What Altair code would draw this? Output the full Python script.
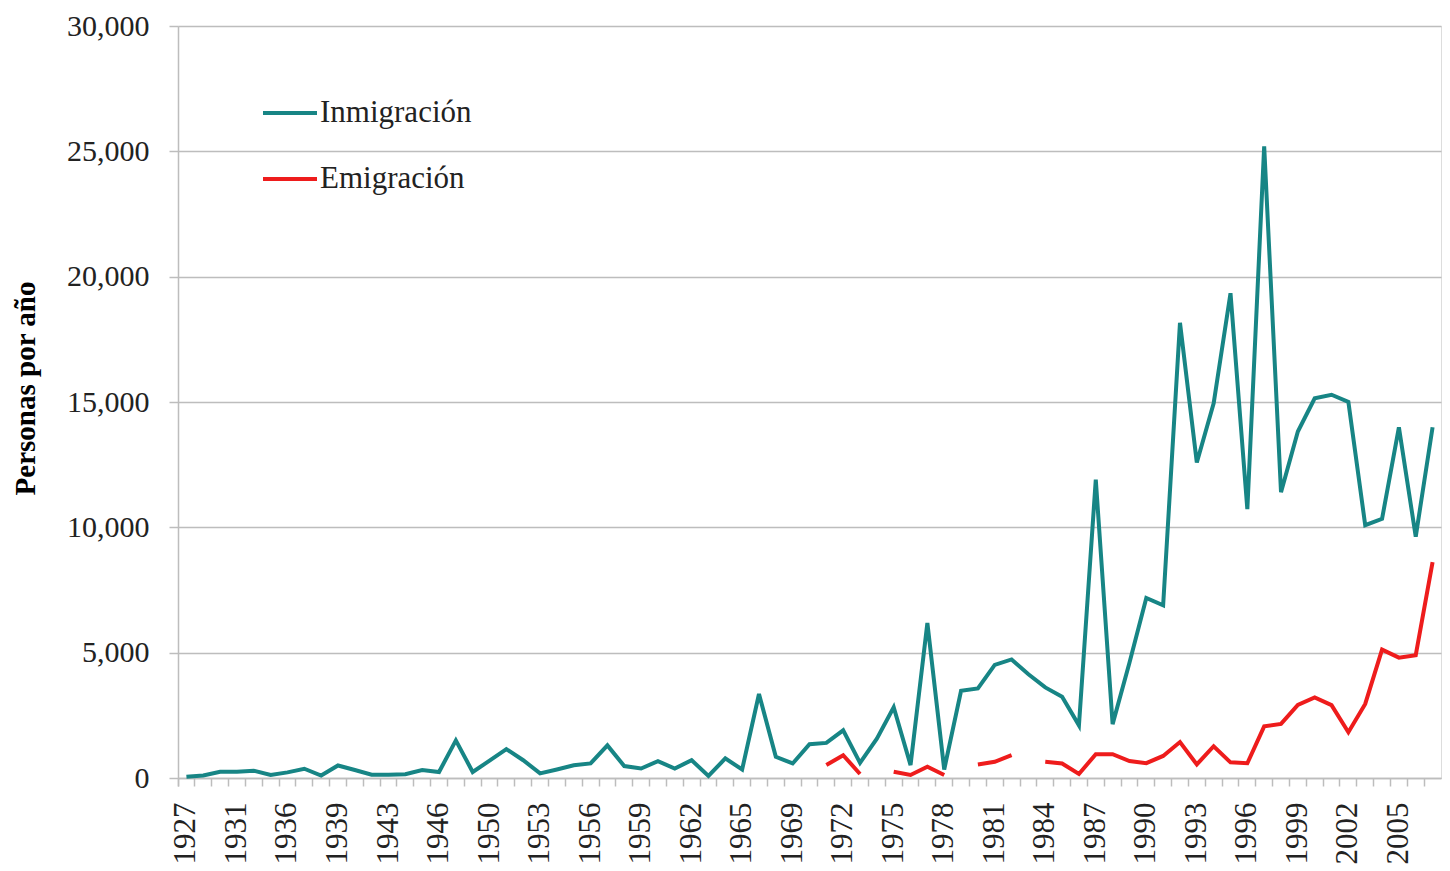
import altair as alt
import pandas as pd

years = ["1927", "1928", "1929", "1931", "1932", "1934", "1936", "1937", "1938",
         "1939", "1940", "1941", "1943", "1944", "1945", "1946", "1947", "1948",
         "1950", "1951", "1952", "1953", "1954", "1955", "1956", "1957", "1958",
         "1959", "1960", "1961", "1962", "1963", "1964", "1965", "1966", "1967",
         "1969", "1970", "1971", "1972", "1973", "1974", "1975", "1976", "1977",
         "1978", "1979", "1980", "1981", "1982", "1983", "1984", "1985", "1986",
         "1987", "1988", "1989", "1990", "1991", "1992", "1993", "1994", "1995",
         "1996", "1997", "1998", "1999", "2000", "2001", "2002", "2003", "2004",
         "2005", "2006", "2007"]

inmigracion = [50, 100, 250, 250, 290, 120, 225, 370, 100,
               500, 320, 130, 130, 150, 320, 240, 1500, 240,
               690, 1150, 710, 185, 340, 510, 580, 1300, 475,
               380, 670, 380, 710, 80, 780, 340, 3350, 845,
               580, 1345, 1400, 1900, 605, 1570, 2820, 515, 6185,
               340, 3480, 3575, 4510, 4730, 4140, 3615, 3245, 2100,
               11900, 2150, 4600, 7180, 6890, 18160, 12585, 14950, 19340,
               10730, 25200, 11400, 13820, 15150, 15290, 15000, 10085, 10340,
               13990, 9630, 13990]

emigracion = [None] * 38 + [
    515, 910, 160, None, 250, 120, 450, 120, None, 540, 645, 910, None,
    645, 580, 160, 950, 950, 675, 590, 880, 1435, 540, 1267, 625, 590,
    2060, 2160, 2920, 3210, 2905, 1825, 2955, 5120, 4800, 4900, 8615]

series_names = ["Inmigración", "Emigración"]
series_colors = ["#178585", "#EE1C1C"]

labeled_years = years[::3]

df = pd.concat([
    pd.DataFrame({"Año": years, "Personas": inmigracion, "Serie": series_names[0]}),
    pd.DataFrame({"Año": years, "Personas": emigracion, "Serie": series_names[1]}),
], ignore_index=True)

label_list = ",".join("'" + y + "'" for y in labeled_years)
label_expr = f"indexof([{label_list}], datum.value) >= 0 ? datum.label : ''"

font = "Liberation Serif"
grid_color = "#BDBDBD"
text_color = "#222222"

chart = alt.Chart(df).mark_line(strokeWidth=4, strokeJoin="miter").encode(
    x=alt.X(
        "Año:O",
        sort=years,
        scale=alt.Scale(type="band", domain=years, paddingInner=0, paddingOuter=0),
        axis=alt.Axis(
            title=None,
            labelExpr=label_expr,
            labelAngle=270,
            labelOverlap=False,
            labelFont=font,
            labelFontSize=31,
            labelColor=text_color,
            labelPadding=16,
            bandPosition=0,
            tickExtra=True,
            ticks=True,
            tickSize=8,
            tickColor=grid_color,
            tickWidth=1.5,
            domainColor=grid_color,
            domainWidth=1.5,
            grid=False,
        ),
    ),
    y=alt.Y(
        "Personas:Q",
        scale=alt.Scale(domain=[0, 30000], nice=False),
        axis=alt.Axis(
            title="Personas por año",
            titleFont=font,
            titleFontSize=29,
            titleFontWeight="bold",
            titleColor="#000000",
            titleX=-153,
            titleY=362,
            titleAngle=270,
            titleBaseline="middle",
            titleAlign="center",
            values=[0, 5000, 10000, 15000, 20000, 25000, 30000],
            format=",d",
            labelFont=font,
            labelFontSize=30,
            labelColor=text_color,
            labelPadding=20,
            tickSize=9,
            tickColor=grid_color,
            tickWidth=1.5,
            domainColor=grid_color,
            domainWidth=1.5,
            grid=True,
            gridColor=grid_color,
            gridWidth=1.5,
        ),
    ),
    color=alt.Color(
        "Serie:N",
        sort=series_names,
        scale=alt.Scale(domain=series_names, range=series_colors),
        legend=alt.Legend(
            title=None,
            orient="none",
            legendX=83,
            legendY=58,
            symbolType="stroke",
            symbolSize=2916,
            symbolStrokeWidth=4,
            labelFont=font,
            labelFontSize=31,
            labelColor=text_color,
            labelOffset=1,
            rowPadding=22,
        ),
    ),
).properties(
    width=1263,
    height=752,
    autosize=alt.AutoSizeParams(type="none"),
    padding={"left": 170, "top": 18, "right": 1, "bottom": 95},
).configure_view(stroke=None).configure(background="white")

chart.save("out.html", embed_options={"renderer": "svg", "actions": False})
